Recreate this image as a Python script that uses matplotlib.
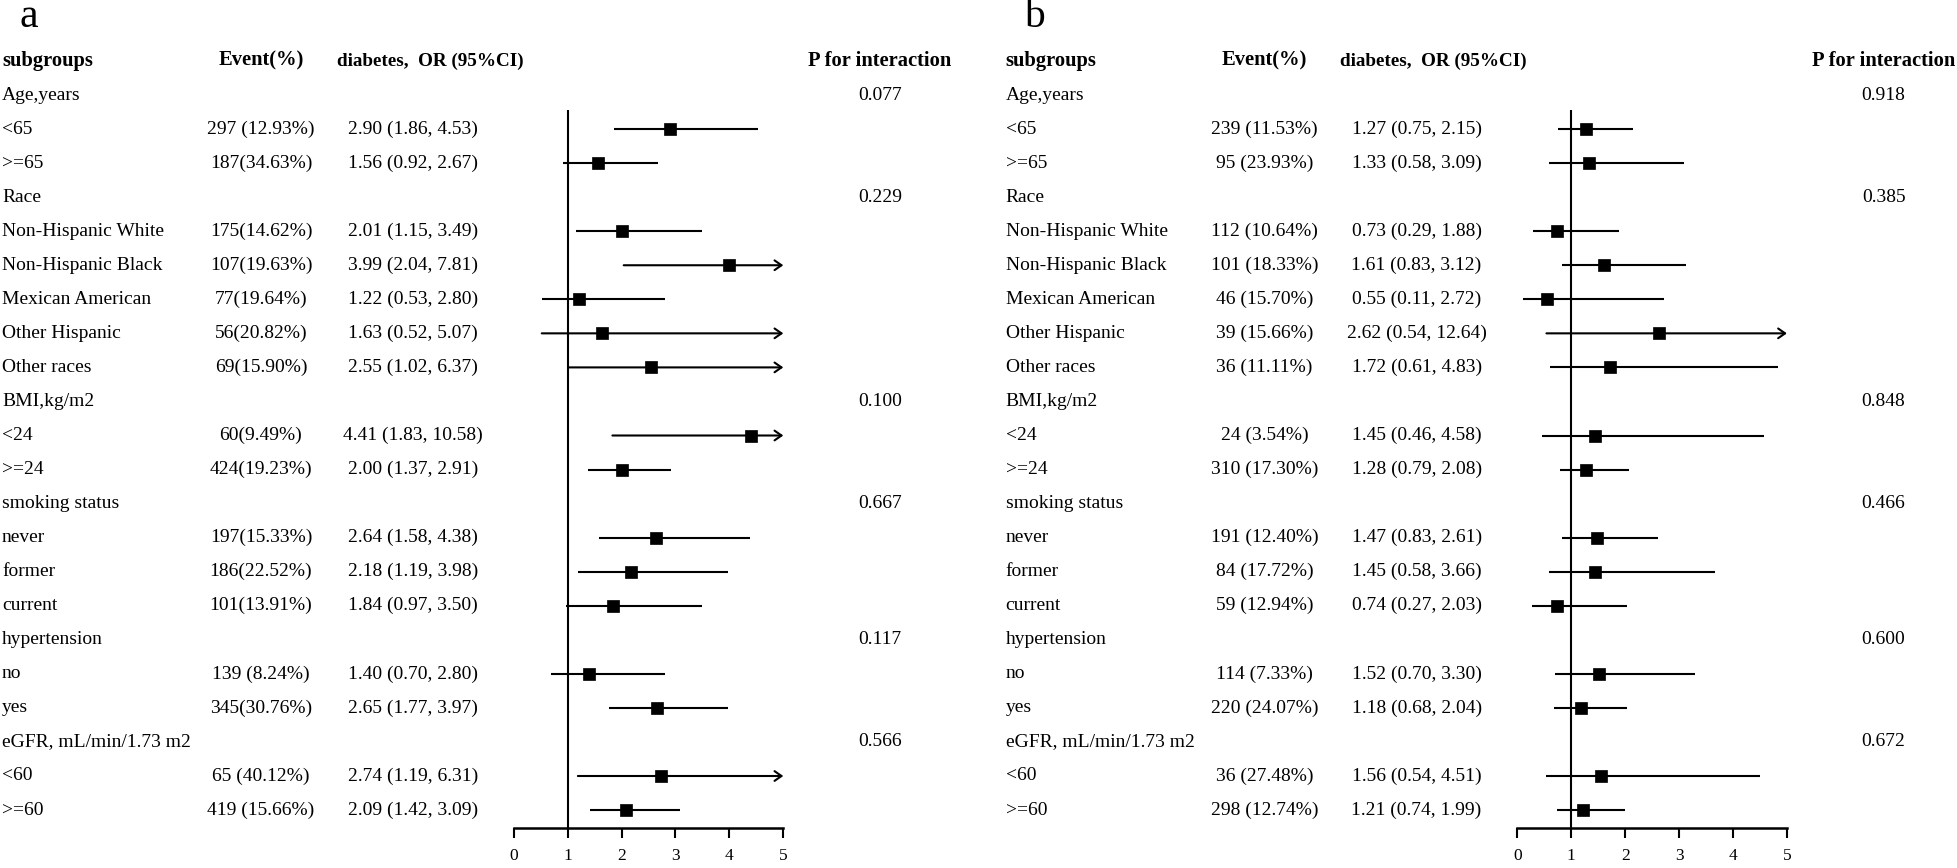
import numpy as np
import matplotlib
matplotlib.use("Agg")
import matplotlib.pyplot as plt
import matplotlib.transforms as mtransforms

plt.rcParams['font.family'] = ['Liberation Serif', 'DejaVu Serif']

# table rows
groups = ["Age,years", "Race", "BMI,kg/m2", "smoking status", "hypertension",
          "eGFR, mL/min/1.73 m2"]
subgroups = [["<65", ">=65"],
             ["Non-Hispanic White", "Non-Hispanic Black", "Mexican American",
              "Other Hispanic", "Other races"],
             ["<24", ">=24"],
             ["never", "former", "current"],
             ["no", "yes"],
             ["<60", ">=60"]]

# panel a
events_a = ["297 (12.93%)", "187(34.63%)",
            "175(14.62%)", "107(19.63%)", "77(19.64%)", "56(20.82%)", "69(15.90%)",
            "60(9.49%)", "424(19.23%)",
            "197(15.33%)", "186(22.52%)", "101(13.91%)",
            "139 (8.24%)", "345(30.76%)",
            "65 (40.12%)", "419 (15.66%)"]
or_a = [2.90, 1.56, 2.01, 3.99, 1.22, 1.63, 2.55, 4.41, 2.00, 2.64, 2.18, 1.84,
        1.40, 2.65, 2.74, 2.09]
lo_a = [1.86, 0.92, 1.15, 2.04, 0.53, 0.52, 1.02, 1.83, 1.37, 1.58, 1.19, 0.97,
        0.70, 1.77, 1.19, 1.42]
hi_a = [4.53, 2.67, 3.49, 7.81, 2.80, 5.07, 6.37, 10.58, 2.91, 4.38, 3.98, 3.50,
        2.80, 3.97, 6.31, 3.09]
p_a = ["0.077", "0.229", "0.100", "0.667", "0.117", "0.566"]

# panel b
events_b = ["239 (11.53%)", "95 (23.93%)",
            "112 (10.64%)", "101 (18.33%)", "46 (15.70%)", "39 (15.66%)", "36 (11.11%)",
            "24 (3.54%)", "310 (17.30%)",
            "191 (12.40%)", "84 (17.72%)", "59 (12.94%)",
            "114 (7.33%)", "220 (24.07%)",
            "36 (27.48%)", "298 (12.74%)"]
or_b = [1.27, 1.33, 0.73, 1.61, 0.55, 2.62, 1.72, 1.45, 1.28, 1.47, 1.45, 0.74,
        1.52, 1.18, 1.56, 1.21]
lo_b = [0.75, 0.58, 0.29, 0.83, 0.11, 0.54, 0.61, 0.46, 0.79, 0.83, 0.58, 0.27,
        0.70, 0.68, 0.54, 0.74]
hi_b = [2.15, 3.09, 1.88, 3.12, 2.72, 12.64, 4.83, 4.58, 2.08, 2.61, 3.66, 2.03,
        3.30, 2.04, 4.51, 1.99]
p_b = ["0.918", "0.385", "0.848", "0.466", "0.600", "0.672"]

xticks = [0, 1, 2, 3, 4, 5]

W, H = 1958, 868
fig = plt.figure(figsize=(W / 100, H / 100), dpi=100)
fig.patch.set_facecolor("white")

FS = 14
FS_HEAD = 14.8
row0, drow = 95, 34.05  # pixel y of first row, row step


def fx(px):
    return px / W


def draw_panel(off, letter, events, ors, los, his, pvals):
    left = 513.7 + off
    ax = fig.add_axes([fx(left), 1 - 827.7 / H, fx(269.6), (827.7 - 110) / H])
    ax.set_xlim(0, 5)
    ax.set_ylim((827.7 - row0) / drow, (110 - row0) / drow)
    for s in ["top", "right", "left"]:
        ax.spines[s].set_visible(False)
    ax.spines["bottom"].set_linewidth(1.8)
    ax.set_yticks([])
    ax.set_xticks(xticks)
    ax.tick_params(axis="x", length=7.4, width=1.5, pad=7, labelsize=12.5)
    ax.axvline(1, color="black", lw=1.5)

    tr = mtransforms.blended_transform_factory(fig.transFigure, ax.transData)

    fig.text(fx(20 + off), 1 - 27 / H, letter, fontsize=30, ha="left", va="baseline")
    # headers
    ax.text(fx(2 + off), -1, "subgroups", transform=tr, fontsize=FS_HEAD,
            fontweight="bold", ha="left", va="center")
    ax.text(fx(261 + off), -1, "Event(%)", transform=tr, fontsize=FS_HEAD,
            fontweight="bold", ha="center", va="center")
    ax.text(fx(430 + off), -1, "diabetes,  OR (95%CI)", transform=tr, fontsize=13.8,
            fontweight="bold", ha="center", va="center")
    ax.text(fx(880 + off), -1, "P for interaction", transform=tr, fontsize=FS_HEAD,
            fontweight="bold", ha="center", va="center")

    r = 0
    k = 0
    for g, subs, p in zip(groups, subgroups, pvals):
        ax.text(fx(2 + off), r, g, transform=tr, fontsize=FS, ha="left", va="center")
        ax.text(fx(880 + off), r, p, transform=tr, fontsize=FS, ha="center", va="center")
        r += 1
        for s in subs:
            ax.text(fx(2 + off), r, s, transform=tr, fontsize=FS, ha="left", va="center")
            ax.text(fx(261 + off), r, events[k], transform=tr, fontsize=FS,
                    ha="center", va="center")
            ax.text(fx(413 + off), r,
                    f"{ors[k]:.2f} ({los[k]:.2f}, {his[k]:.2f})",
                    transform=tr, fontsize=FS, ha="center", va="center")
            if his[k] > 5:
                ax.annotate("", xy=(5, r), xytext=(los[k], r),
                            arrowprops=dict(arrowstyle="->,head_length=0.5,head_width=0.35",
                                            lw=1.5, color="black",
                                            shrinkA=0, shrinkB=0),
                            annotation_clip=False)
            else:
                ax.plot([los[k], his[k]], [r, r], color="black", lw=1.5,
                        solid_capstyle="butt")
            ax.plot(ors[k], r, marker="s", ms=8, mew=0.5, color="black", zorder=5)
            r += 1
            k += 1


draw_panel(0, "a", events_a, or_a, lo_a, hi_a, p_a)
draw_panel(1003.6, "b", events_b, or_b, lo_b, hi_b, p_b)

fig.savefig("out.png", dpi=100)
